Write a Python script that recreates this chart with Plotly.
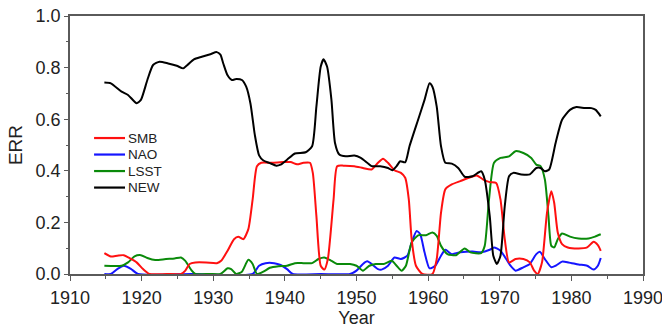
import plotly.graph_objects as go

# ---- data -------------------------------------------------------------
smb_year = [1914.8, 1915.7, 1916.6, 1917.5, 1918.4, 1919.3, 1920.2, 1921.1, 1923.5, 1925.5,
            1926.1, 1926.7, 1927.5, 1929.0, 1930.5, 1931.1, 1932.0, 1932.9, 1933.5, 1934.2,
            1934.9, 1935.5, 1936.1, 1936.7, 1938.2, 1939.7, 1940.8, 1941.7, 1942.6, 1943.5,
            1943.9, 1944.4, 1945.0, 1945.5, 1946.0, 1946.8, 1947.3, 1948.2, 1949.7, 1950.9,
            1952.1, 1953.0, 1953.7, 1954.4, 1955.3, 1956.2, 1956.8, 1957.3, 1957.7, 1958.3,
            1959.2, 1960.6, 1961.2, 1961.8, 1962.4, 1963.3, 1964.5, 1965.7, 1966.8, 1967.7,
            1968.6, 1969.5, 1970.1, 1970.7, 1971.3, 1972.2, 1973.3, 1974.2, 1974.8, 1975.3,
            1975.9, 1976.6, 1977.2, 1977.6, 1978.1, 1978.7, 1979.5, 1981.0, 1982.2, 1983.1,
            1983.7, 1984.1]
smb_err = [0.081, 0.068, 0.071, 0.073, 0.060, 0.045, 0.019, 0.000, 0.000, 0.000,
           0.013, 0.039, 0.045, 0.045, 0.042, 0.051, 0.090, 0.135, 0.144, 0.135,
           0.174, 0.289, 0.418, 0.431, 0.431, 0.434, 0.434, 0.425, 0.431, 0.431,
           0.392, 0.225, 0.032, 0.017, 0.058, 0.289, 0.418, 0.420, 0.418, 0.411,
           0.405, 0.431, 0.447, 0.431, 0.402, 0.392, 0.373, 0.289, 0.135, 0.032,
           0.000, 0.000, 0.058, 0.238, 0.328, 0.347, 0.360, 0.373, 0.382, 0.366,
           0.356, 0.353, 0.289, 0.135, 0.045, 0.058, 0.058, 0.045, 0.013, 0.000,
           0.045, 0.238, 0.321, 0.276, 0.161, 0.116, 0.103, 0.099, 0.103, 0.125,
           0.112, 0.090]

nao_year = [1914.8, 1915.7, 1916.6, 1917.5, 1918.5, 1919.5, 1927.0, 1935.5, 1936.4, 1937.3,
            1938.5, 1939.4, 1940.3, 1941.1, 1945.0, 1949.1, 1950.0, 1950.9, 1951.5, 1952.4,
            1953.0, 1953.5, 1954.4, 1955.3, 1956.2, 1957.1, 1957.7, 1958.4, 1958.9, 1959.5,
            1960.2, 1961.0, 1961.8, 1962.4, 1963.3, 1964.5, 1966.2, 1967.4, 1968.6, 1969.2,
            1970.1, 1970.9, 1971.5, 1972.2, 1973.3, 1974.2, 1975.1, 1975.6, 1976.3, 1977.2,
            1977.8, 1978.7, 1979.6, 1981.0, 1982.2, 1983.1, 1983.7, 1984.1]
nao_err = [0.000, 0.000, 0.019, 0.032, 0.020, 0.000, 0.000, 0.000, 0.032, 0.042,
           0.042, 0.035, 0.019, 0.000, 0.000, 0.000, 0.013, 0.039, 0.049, 0.032,
           0.019, 0.017, 0.032, 0.064, 0.058, 0.071, 0.122, 0.167, 0.154, 0.084,
           0.022, 0.032, 0.071, 0.094, 0.077, 0.084, 0.087, 0.084, 0.094, 0.103,
           0.090, 0.058, 0.032, 0.013, 0.026, 0.039, 0.077, 0.086, 0.058, 0.026,
           0.032, 0.048, 0.045, 0.037, 0.032, 0.017, 0.032, 0.062]

lsst_year = [1914.8, 1917.2, 1918.1, 1919.0, 1919.9, 1920.8, 1921.9, 1923.4, 1924.6, 1925.5,
             1926.1, 1927.0, 1927.5, 1929.5, 1931.0, 1932.0, 1932.5, 1933.2, 1934.0, 1934.9,
             1935.5, 1936.1, 1937.0, 1937.9, 1939.1, 1940.3, 1941.4, 1942.6, 1943.8, 1944.7,
             1945.5, 1946.5, 1947.3, 1949.1, 1950.0, 1950.9, 1951.8, 1952.7, 1953.8, 1954.9,
             1955.6, 1956.3, 1956.9, 1957.7, 1958.6, 1959.7, 1960.6, 1961.2, 1961.8, 1962.7,
             1963.9, 1965.1, 1965.9, 1967.4, 1967.9, 1968.5, 1969.2, 1970.1, 1971.3, 1972.2,
             1973.3, 1974.4, 1975.1, 1975.7, 1976.3, 1976.8, 1977.2, 1977.6, 1978.1, 1978.7,
             1979.8, 1981.0, 1982.4, 1983.3, 1984.1]
lsst_err = [0.032, 0.032, 0.045, 0.068, 0.073, 0.062, 0.054, 0.058, 0.060, 0.064,
            0.051, 0.013, 0.000, 0.000, 0.000, 0.022, 0.019, 0.000, 0.009, 0.055,
            0.039, 0.000, 0.009, 0.024, 0.030, 0.032, 0.042, 0.042, 0.042, 0.058,
            0.064, 0.051, 0.039, 0.039, 0.032, 0.013, 0.032, 0.039, 0.039, 0.051,
            0.032, 0.013, 0.032, 0.122, 0.150, 0.150, 0.161, 0.148, 0.109, 0.077,
            0.073, 0.099, 0.084, 0.081, 0.109, 0.289, 0.431, 0.450, 0.456, 0.476,
            0.469, 0.450, 0.424, 0.418, 0.366, 0.225, 0.109, 0.103, 0.135, 0.157,
            0.145, 0.138, 0.138, 0.145, 0.154]

new_year = [1914.8, 1915.7, 1917.2, 1918.1, 1919.3, 1919.9, 1920.8, 1921.6, 1922.5, 1923.7,
            1924.9, 1925.8, 1926.4, 1927.3, 1928.4, 1929.6, 1930.5, 1931.0, 1931.4, 1932.0,
            1932.6, 1933.2, 1934.0, 1934.6, 1935.2, 1935.8, 1936.4, 1937.0, 1937.9, 1938.8,
            1939.4, 1940.3, 1941.4, 1942.9, 1943.8, 1944.4, 1945.0, 1945.4, 1945.9, 1946.5,
            1947.0, 1947.6, 1948.5, 1949.7, 1950.6, 1951.5, 1952.1, 1953.3, 1954.4, 1955.0,
            1955.6, 1956.1, 1956.8, 1957.4, 1958.6, 1959.5, 1960.2, 1960.6, 1961.2, 1961.8,
            1962.4, 1963.3, 1964.2, 1965.1, 1966.2, 1967.4, 1967.9, 1968.6, 1969.1, 1969.6,
            1970.1, 1970.7, 1971.3, 1971.9, 1973.0, 1974.2, 1975.1, 1975.7, 1976.3, 1976.9,
            1977.8, 1978.7, 1979.8, 1980.7, 1981.9, 1982.8, 1983.4, 1984.1]
new_err = [0.742, 0.739, 0.707, 0.694, 0.662, 0.675, 0.752, 0.810, 0.823, 0.816,
           0.807, 0.797, 0.810, 0.832, 0.842, 0.852, 0.860, 0.850, 0.816, 0.770,
           0.752, 0.756, 0.752, 0.726, 0.660, 0.540, 0.460, 0.440, 0.430, 0.420,
           0.424, 0.443, 0.467, 0.472, 0.495, 0.649, 0.803, 0.832, 0.803, 0.675,
           0.508, 0.463, 0.456, 0.459, 0.450, 0.431, 0.418, 0.418, 0.411, 0.402,
           0.418, 0.437, 0.433, 0.495, 0.598, 0.675, 0.739, 0.726, 0.649, 0.495,
           0.431, 0.428, 0.411, 0.377, 0.379, 0.398, 0.366, 0.225, 0.071, 0.039,
           0.071, 0.263, 0.379, 0.392, 0.386, 0.386, 0.411, 0.411, 0.398, 0.405,
           0.508, 0.598, 0.636, 0.647, 0.643, 0.643, 0.636, 0.611]

x_ticks = [1910, 1920, 1930, 1940, 1950, 1960, 1970, 1980, 1990]
y_ticks = [0.0, 0.2, 0.4, 0.6, 0.8, 1.0]
legend_names = ["SMB", "NAO", "LSST", "NEW"]

# ---- figure -----------------------------------------------------------
FONT = "Liberation Sans, Arial, sans-serif"
AXIS_COLOR = "#5a5a5a"
COLORS = {"SMB": "#ff1010", "NAO": "#1515ff", "LSST": "#0a8a0a", "NEW": "#000000"}

# drawing order: NAO at the bottom, NEW on top
series = [
    ("NAO", nao_year, nao_err),
    ("LSST", lsst_year, lsst_err),
    ("SMB", smb_year, smb_err),
    ("NEW", new_year, new_err),
]

fig = go.Figure()
for name, xs, ys in series:
    fig.add_trace(go.Scatter(
        x=xs, y=ys, name=name, mode="lines", showlegend=False,
        line=dict(color=COLORS[name], width=2, shape="spline", smoothing=0.6),
    ))

# compact legend block inside the plot area (paper coordinates)
row_y0, row_step = 0.527, 0.064
for i, name in enumerate(legend_names):
    yy = row_y0 - i * row_step
    fig.add_shape(type="line", xref="paper", yref="paper",
                  x0=0.042, x1=0.096, y0=yy, y1=yy,
                  line=dict(color=COLORS[name], width=2.2))
    fig.add_annotation(x=0.098, y=yy, xref="paper", yref="paper",
                       text=name, showarrow=False, xanchor="left", yanchor="middle",
                       font=dict(family=FONT, size=13.5, color="#222222"))

fig.update_layout(
    width=662, height=329,
    margin=dict(l=70, r=19, t=16, b=55, autoexpand=False),
    paper_bgcolor="white", plot_bgcolor="white",
    font=dict(family=FONT, color="#222222", size=18),
    showlegend=False,
    xaxis=dict(
        range=x_ticks[0:1] + x_ticks[-1:], tickvals=x_ticks, ticks="outside",
        ticklen=5, tickwidth=1.3, tickcolor=AXIS_COLOR, ticklabelstandoff=2,
        ticklabeloverflow="allow", automargin=False,
        showline=True, linecolor=AXIS_COLOR, linewidth=1.5, mirror=True,
        showgrid=False, zeroline=False,
        minor=dict(dtick=5, tick0=1910, ticks="outside", ticklen=3,
                   tickwidth=1.3, tickcolor=AXIS_COLOR, showgrid=False),
        title=dict(text="Year", font=dict(size=18), standoff=3),
    ),
    xaxis2=dict(
        range=x_ticks[0:1] + x_ticks[-1:], overlaying="x", side="top", anchor="y",
        tick0=1910, dtick=5, ticks="inside", ticklen=4, tickwidth=1.3,
        tickcolor=AXIS_COLOR, showticklabels=False, showgrid=False,
        zeroline=False, showline=False, automargin=False,
    ),
    yaxis=dict(
        range=[y_ticks[0], y_ticks[-1]], tickvals=y_ticks, tickformat=".1f",
        ticks="outside", ticklen=4, tickwidth=1.3, tickcolor=AXIS_COLOR,
        ticklabeloverflow="allow", automargin=False,
        showline=True, linecolor=AXIS_COLOR, linewidth=1.5, mirror=True,
        showgrid=False, zeroline=False,
        minor=dict(dtick=0.1, tick0=0, ticks="outside", ticklen=2,
                   tickwidth=1.3, tickcolor=AXIS_COLOR, showgrid=False),
        title=dict(text="ERR", font=dict(size=19), standoff=8),
    ),
)

fig.write_html("out.html")
